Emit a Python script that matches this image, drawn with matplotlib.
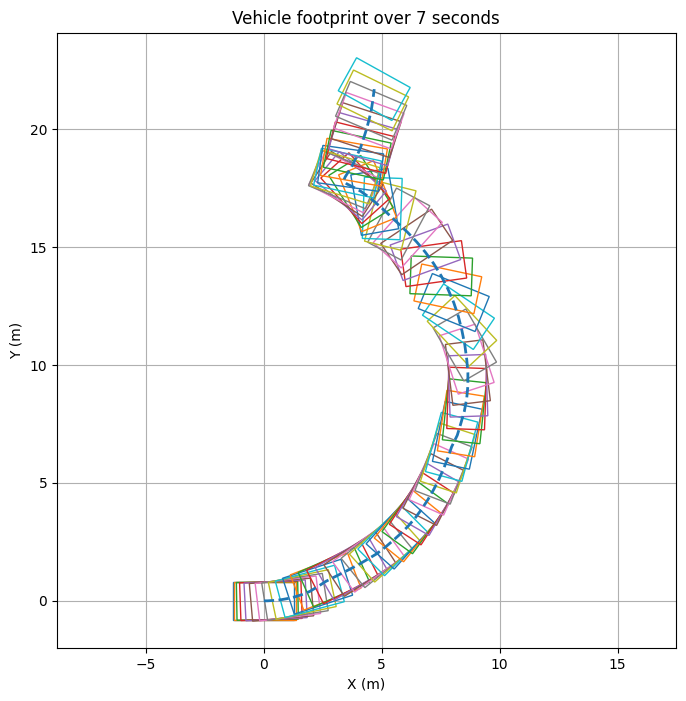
import matplotlib
matplotlib.use("Agg")
import matplotlib.pyplot as plt
from matplotlib.patches import Rectangle

# Vehicle states (one per 0.1 s)
x_pos = [0.00, 0.05, 0.15, 0.30, 0.50, 0.75, 1.02, 1.32, 1.63, 1.95,
         2.28, 2.62, 2.97, 3.33, 3.70, 4.07, 4.43, 4.79, 5.13, 5.47,
         5.80, 6.12, 6.42, 6.70, 6.96, 7.20, 7.42, 7.62, 7.80, 7.96,
         8.20, 8.35, 8.50, 8.60, 8.65, 8.65, 8.60, 8.52, 8.40, 8.25,
         8.05, 7.80, 7.52, 7.20, 6.85, 6.48, 6.10, 5.72, 5.36, 5.02,
         4.70, 4.40, 4.12, 3.88, 3.68, 3.52, 3.42, 3.40, 3.45, 3.55,
         3.68, 3.82, 3.96, 4.10, 4.22, 4.34, 4.45, 4.55, 4.62, 4.68]
y_pos = [0.00, 0.00, 0.00, 0.01, 0.02, 0.05, 0.10, 0.17, 0.27, 0.40,
         0.60, 0.82, 1.00, 1.18, 1.37, 1.57, 1.78, 2.00, 2.26, 2.55,
         2.85, 3.17, 3.52, 3.90, 4.30, 4.72, 5.15, 5.60, 6.06, 6.53,
         7.02, 7.52, 8.04, 8.58, 9.12, 9.68, 10.25, 10.85, 11.45, 12.05,
         12.65, 13.23, 13.78, 14.30, 14.78, 15.22, 15.62, 15.98, 16.32, 16.64,
         16.92, 17.16, 17.36, 17.50, 17.60, 17.68, 17.76, 17.86, 17.98, 18.14,
         18.34, 18.60, 18.90, 19.22, 19.58, 19.96, 20.36, 20.78, 21.22, 21.70]
yaw_deg = [0, 0, 1, 2, 3, 5, 7, 9, 12, 15,
           18, 21, 24, 27, 30, 33, 36, 39, 42, 45,
           48, 51, 54, 57, 60, 63, 66, 69, 72, 75,
           78, 81, 84, 88, 92, 97, 108, 120, 133, 146,
           158, 168, 178, 188, 200, 214, 228, 242, 256, 268,
           280, 292, 302, 312, 320, 327, 333, 338, 343, 348,
           352, 350, 348, 346, 344, 342, 340, 337, 334, 331]

CAR_LENGTH = 2.6
CAR_WIDTH  = 1.6

fig = plt.figure(figsize=(6.86, 7.01), dpi=100)
ax = fig.add_axes([0.083, 0.0756, 0.902, 0.878])

# Footprints
for i in range(len(x_pos)):
    rect = Rectangle((x_pos[i] - CAR_LENGTH/2, y_pos[i] - CAR_WIDTH/2), CAR_LENGTH, CAR_WIDTH,
                     angle=yaw_deg[i], rotation_point="center", fill=False,
                     edgecolor=f"C{i % 10}", linewidth=1)
    ax.add_patch(rect)

# Path of the centre
ax.plot(x_pos, y_pos, "--", color="tab:blue", linewidth=2)

ax.set_xlim(-8.77, 17.46)
ax.set_ylim(-2.0, 24.1)
ax.grid(True)
ax.set_axisbelow(True)
ax.set_xlabel("X (m)")
ax.set_ylabel("Y (m)")
ax.set_title("Vehicle footprint over 7 seconds")

plt.savefig("out.png")
